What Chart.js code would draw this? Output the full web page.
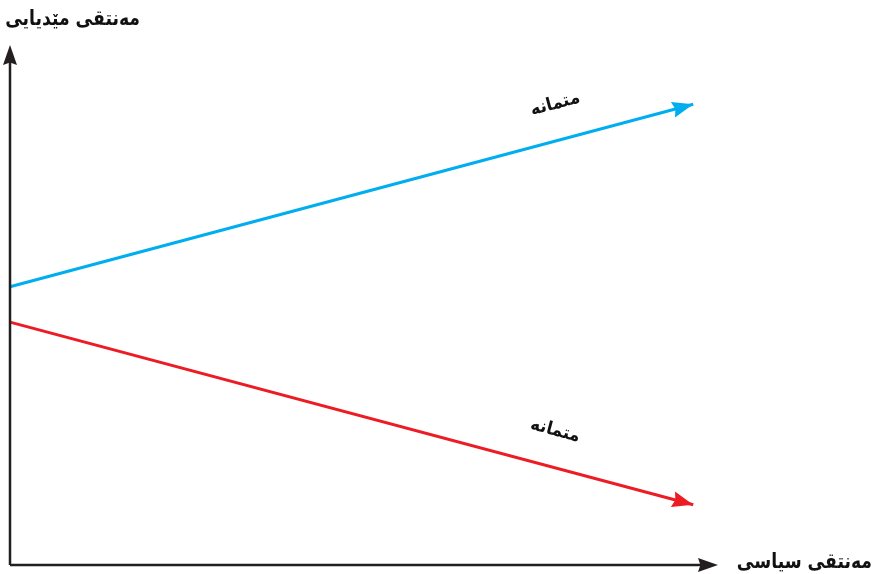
<!DOCTYPE html>
<html>
<head>
<meta charset="utf-8">
<script src="https://cdn.jsdelivr.net/npm/chart.js@4.4.0/dist/chart.umd.min.js"></script>
<style>
  html, body { margin: 0; padding: 0; background: #ffffff; }
  #wrap { width: 874px; height: 574px; }
</style>
</head>
<body>
<div id="wrap"><canvas id="chart"></canvas></div>
<script>
// Data (0-100 on both axes)
const xValues = [0, 96.5];
const mediaTrust = [53.5, 88.6];   // blue
const politicalTrust = [46.7, 11.6]; // red
const lineLabel = 'متمانە';
const yAxisTitle = 'مەنتقی مێدیایی';
const xAxisTitle = 'مەنتقی سیاسی';

const blue = '#00aeef';
const red = '#ed1c24';
const axisColor = '#231f20';
const fontFamily = '"DejaVu Sans", sans-serif';

function arrowHead(ctx, x1, y1, x2, y2, len, half, color) {
    const a = Math.atan2(y2 - y1, x2 - x1);
    ctx.save();
    ctx.fillStyle = color;
    ctx.translate(x2, y2);
    ctx.rotate(a);
    ctx.beginPath();
    ctx.moveTo(0, 0);
    ctx.lineTo(-len, -half);
    ctx.lineTo(-len * 0.88, 0);
    ctx.lineTo(-len, half);
    ctx.closePath();
    ctx.fill();
    ctx.restore();
}

// text squeezed a little horizontally to match the narrower original font
function squeezedText(ctx, text, x, y, sx, align) {
    ctx.save();
    ctx.translate(x, y);
    ctx.scale(sx, 1);
    ctx.textAlign = align;
    ctx.fillText(text, 0, 0);
    ctx.restore();
}

const decorations = {
    id: 'decorations',
    afterDatasetsDraw(chart) {
        const { ctx, chartArea, scales } = chart;
        const { left, right, top, bottom } = chartArea;

        // axes
        ctx.save();
        ctx.strokeStyle = axisColor;
        ctx.lineWidth = 2.5;
        ctx.beginPath();
        ctx.moveTo(left, bottom);
        ctx.lineTo(left, top + 10);
        ctx.moveTo(left, bottom);
        ctx.lineTo(right - 10, bottom);
        ctx.stroke();
        ctx.restore();
        arrowHead(ctx, left, bottom, left, top, 20, 7, axisColor);
        arrowHead(ctx, left, bottom, right, bottom, 20, 7, axisColor);

        // arrowheads at end of each series + rotated label
        chart.data.datasets.forEach((ds, i) => {
            const pts = chart.getDatasetMeta(i).data;
            const p0 = pts[0], p1 = pts[pts.length - 1];
            arrowHead(ctx, p0.x, p0.y, p1.x, p1.y, 21, 8, ds.borderColor);

            const ang = Math.atan2(p1.y - p0.y, p1.x - p0.x);
            const lx = scales.x.getPixelForValue(77);
            const t = (lx - p0.x) / (p1.x - p0.x);
            const ly = p0.y + t * (p1.y - p0.y) - 37;
            ctx.save();
            ctx.translate(lx, ly);
            ctx.rotate(ang);
            ctx.font = 'bold 18px ' + fontFamily;
            ctx.fillStyle = '#111111';
            ctx.textBaseline = 'middle';
            ctx.direction = 'rtl';
            squeezedText(ctx, lineLabel, 0, 0, 0.92, 'center');
            ctx.restore();
        });

        // axis titles
        ctx.save();
        ctx.font = 'bold 21px ' + fontFamily;
        ctx.fillStyle = '#111111';
        ctx.direction = 'rtl';
        ctx.textBaseline = 'middle';
        squeezedText(ctx, yAxisTitle, 140, 20, 0.82, 'right');
        squeezedText(ctx, xAxisTitle, 872, 563, 0.82, 'right');
        ctx.restore();
    }
};

new Chart(document.getElementById('chart'), {
    type: 'line',
    data: {
        labels: xValues,
        datasets: [
            {
                label: 'blue',
                data: xValues.map((x, i) => ({ x, y: mediaTrust[i] })),
                borderColor: blue,
                borderWidth: 3,
                pointRadius: 0,
                tension: 0,
                clip: false
            },
            {
                label: 'red',
                data: xValues.map((x, i) => ({ x, y: politicalTrust[i] })),
                borderColor: red,
                borderWidth: 3,
                pointRadius: 0,
                tension: 0,
                clip: false
            }
        ]
    },
    options: {
        responsive: true,
        maintainAspectRatio: false,
        animation: false,
        layout: { padding: { left: 10, right: 156, top: 45, bottom: 9 } },
        plugins: {
            legend: { display: false },
            tooltip: { enabled: false }
        },
        scales: {
            x: { type: 'linear', min: 0, max: 100, display: false },
            y: { type: 'linear', min: 0, max: 100, display: false }
        }
    },
    plugins: [decorations]
});
</script>
</body>
</html>
